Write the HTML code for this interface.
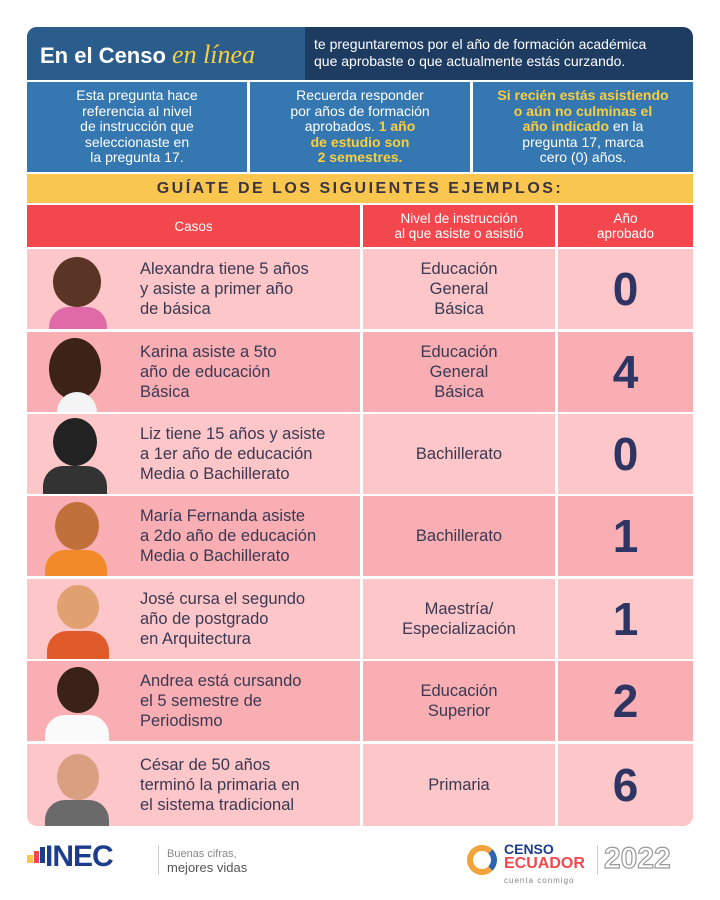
<!DOCTYPE html>
<html><head><meta charset="utf-8"><style>
*{margin:0;padding:0;box-sizing:border-box}
body{width:720px;height:900px;background:#fff;font-family:"Liberation Sans",sans-serif;position:relative;overflow:hidden}
.a{position:absolute}
.c{display:flex;align-items:center;justify-content:center;text-align:center}
.info{background:#3577b1;color:#fff;font-size:14px;line-height:15.5px;top:82px;height:90px;width:220px}
.y{color:#f9cf3f;font-weight:bold}
.row{left:27px;width:666px;height:80px}
.r1{background:#fdc6c8}.r2{background:#f8aeb2}
.cell{position:absolute;top:0;height:100%;border-left:3px solid #fff}
.txt{position:absolute;left:113px;top:0;height:100%;display:flex;align-items:center;font-size:16.5px;line-height:20px;color:#3b3852}
.mid{left:333px;width:195px;font-size:16.5px;line-height:20px;color:#3b3852}
.num{left:528px;width:138px;font-size:46px;font-weight:bold;color:#2f3563}
.av{position:absolute;left:8px;bottom:0;width:90px;height:78px;overflow:hidden}
.head{position:absolute;border-radius:50%}
.body{position:absolute;bottom:0;border-radius:20px 20px 0 0}
</style></head><body>
<div class="a" style="left:27px;top:27px;width:666px;height:53px;background:#1e3c62;border-radius:10px 10px 0 0"></div>
<div class="a" style="left:27px;top:27px;width:278px;height:53px;background:#2a5d8c;border-radius:10px 0 0 0"></div>
<div class="a" style="left:40px;top:40px;font-size:22px;font-weight:bold;color:#fff;white-space:nowrap">En el Censo <span style="color:#f9cf3f;font-style:italic;font-weight:normal;font-family:'Liberation Serif',serif;font-size:26px">en línea</span></div>
<div class="a" style="left:314px;top:36px;font-size:14px;line-height:17px;color:#fff">te preguntaremos por el año de formación académica<br>que aprobaste o que actualmente estás curzando.</div>
<div class="a c info" style="left:27px"><div>Esta pregunta hace<br>referencia al nivel<br>de instrucción que<br>seleccionaste en<br>la pregunta 17.</div></div>
<div class="a c info" style="left:250px"><div>Recuerda responder<br>por años de formación<br>aprobados. <span class="y">1 año<br>de estudio son<br>2 semestres.</span></div></div>
<div class="a c info" style="left:473px"><div><span class="y">Si recién estás asistiendo<br>o aún no culminas el<br>año indicado</span> en la<br>pregunta 17, marca<br>cero (0) años.</div></div>
<div class="a c" style="left:27px;top:174px;width:666px;height:29px;background:#f9c74f;font-size:16px;font-weight:bold;letter-spacing:2.5px;color:#3b3440">GUÍATE DE LOS SIGUIENTES EJEMPLOS:</div>
<div class="a" style="left:27px;top:205px;width:666px;height:42px;background:#f2474c;color:#fff;font-size:13.5px;line-height:15px">
<div class="a c" style="left:0;width:333px;height:42px">Casos</div>
<div class="a c" style="left:333px;width:195px;height:42px;border-left:3px solid #fff">Nivel de instrucción<br>al que asiste o asistió</div>
<div class="a c" style="left:528px;width:138px;height:42px;border-left:3px solid #fff">Año<br>aprobado</div>
</div>

<div class="a row r1" style="top:249px"><div class="av"><div class="head" style="left:18px;top:6px;width:48px;height:50px;background:#5a3526"></div><div class="body" style="left:14px;width:58px;height:22px;background:#e06aa8"></div></div><div class="txt">Alexandra tiene 5 años<br>y asiste a primer año<br>de básica</div><div class="cell c mid">Educación<br>General<br>Básica</div><div class="cell c num">0</div></div>
<div class="a row r2" style="top:332px"><div class="av"><div class="head" style="left:14px;top:4px;width:52px;height:62px;background:#3d2218"></div><div class="body" style="left:22px;width:40px;height:20px;background:#f4f4f4"></div></div><div class="txt">Karina asiste a 5to<br>año de educación<br>Básica</div><div class="cell c mid">Educación<br>General<br>Básica</div><div class="cell c num">4</div></div>
<div class="a row r1" style="top:414px"><div class="av"><div class="head" style="left:18px;top:2px;width:44px;height:48px;background:#222"></div><div class="body" style="left:8px;width:64px;height:28px;background:#333"></div></div><div class="txt">Liz tiene 15 años y asiste<br>a 1er año de educación<br>Media o Bachillerato</div><div class="cell c mid">Bachillerato</div><div class="cell c num">0</div></div>
<div class="a row r2" style="top:496px"><div class="av"><div class="head" style="left:20px;top:4px;width:44px;height:48px;background:#c0703a"></div><div class="body" style="left:10px;width:62px;height:26px;background:#f38a2a"></div></div><div class="txt">María Fernanda asiste<br>a 2do año de educación<br>Media o Bachillerato</div><div class="cell c mid">Bachillerato</div><div class="cell c num">1</div></div>
<div class="a row r1" style="top:579px"><div class="av"><div class="head" style="left:22px;top:4px;width:42px;height:44px;background:#e0a070"></div><div class="body" style="left:12px;width:62px;height:28px;background:#e05a2a"></div></div><div class="txt">José cursa el segundo<br>año de postgrado<br>en Arquitectura</div><div class="cell c mid">Maestría/<br>Especialización</div><div class="cell c num">1</div></div>
<div class="a row r2" style="top:661px"><div class="av"><div class="head" style="left:22px;top:4px;width:42px;height:46px;background:#3a2218"></div><div class="body" style="left:10px;width:64px;height:26px;background:#fafafa"></div></div><div class="txt">Andrea está cursando<br>el 5 semestre de<br>Periodismo</div><div class="cell c mid">Educación<br>Superior</div><div class="cell c num">2</div></div>
<div class="a row r1" style="top:744px;height:82px;border-radius:0 0 10px 10px"><div class="av"><div class="head" style="left:22px;top:6px;width:42px;height:46px;background:#d8a080"></div><div class="body" style="left:10px;width:64px;height:26px;background:#6a6a6a"></div></div><div class="txt">César de 50 años<br>terminó la primaria en<br>el sistema tradicional</div><div class="cell c mid">Primaria</div><div class="cell c num">6</div></div>

<div class="a" style="left:27px;top:855px;width:6px;height:8px;background:#f9c74f"></div>
<div class="a" style="left:34px;top:851px;width:5px;height:12px;background:#f2474c"></div>
<div class="a" style="left:40px;top:847px;width:5px;height:16px;background:#1e3c8c"></div>
<div class="a" style="left:45px;top:843px;font-size:30px;font-weight:bold;color:#1e3c8c;letter-spacing:-1px;line-height:28px">INEC</div>
<div class="a" style="left:158px;top:845px;width:1px;height:30px;background:#ccc"></div>
<div class="a" style="left:167px;top:847px;font-size:11px;color:#888;line-height:14px">Buenas cifras,<br><span style="font-size:13px;color:#555">mejores vidas</span></div>
<div class="a" style="left:467px;top:845px;width:30px;height:30px;border-radius:50%;border:6px solid #f2a33a;border-right-color:#2a66b0"></div>
<div class="a" style="left:504px;top:842px;font-size:14px;font-weight:bold;line-height:14px;color:#1e3c8c">CENSO<br><span style="color:#f2474c;font-size:16px">ECUADOR</span><br><span style="font-size:8px;color:#888;font-weight:normal;letter-spacing:1px">cuenta conmigo</span></div>
<div class="a" style="left:597px;top:845px;width:1px;height:30px;background:#ccc"></div>
<div class="a" style="left:604px;top:843px;font-size:30px;font-weight:bold;color:#fff;-webkit-text-stroke:1.2px #999;line-height:32px">2022</div>
</body></html>
